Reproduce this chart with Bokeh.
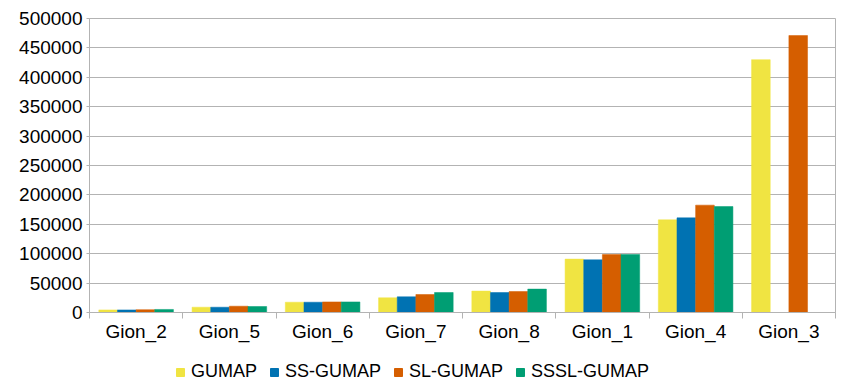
import numpy as np
from bokeh.plotting import figure
from bokeh.layouts import column
from bokeh.models import ColumnDataSource, FixedTicker, Range1d, Legend, LegendItem, BasicTickFormatter
from bokeh.embed import file_html
from bokeh.resources import INLINE

categories = ["Gion_2", "Gion_5", "Gion_6", "Gion_7", "Gion_8", "Gion_1", "Gion_4", "Gion_3"]
series_names = ["GUMAP", "SS-GUMAP", "SL-GUMAP", "SSSL-GUMAP"]
gumap = [4400, 9000, 17500, 25000, 36400, 90800, 157600, 430000]
ss_gumap = [4400, 9000, 17500, 26700, 34000, 89600, 161000, float("nan")]
sl_gumap = [4800, 10700, 18000, 30600, 35700, 98600, 182600, 471000]
sssl_gumap = [5200, 10200, 18000, 34000, 39800, 98600, 180200, float("nan")]
colors = ["#f0e442", "#0072b2", "#d55e00", "#009e73"]
y_ticks = list(range(0, 500001, 50000))

series = [gumap, ss_gumap, sl_gumap, sssl_gumap]
offsets = [-0.3, -0.1, 0.1, 0.3]
centers = np.arange(len(categories)) + 0.5

FONT = "Liberation Sans"
grid_col = "#b3b3b3"

p = figure(width=845, height=350, output_backend="svg", toolbar_location=None,
           x_range=Range1d(0, len(categories)), y_range=Range1d(0, 500000),
           min_border_left=89, min_border_right=10, min_border_top=18, min_border_bottom=38)

sources = []
for name, vals, off, col in zip(series_names, series, offsets, colors):
    src = ColumnDataSource(dict(x=centers + off, top=np.array(vals, dtype=float)))
    sources.append(src)
    p.vbar(x="x", top="top", bottom=0, width=0.2, source=src,
           fill_color=col, line_color=col, line_width=0.5)

# x axis: labels at centers, ticks at boundaries
p.xaxis.ticker = FixedTicker(ticks=list(centers), minor_ticks=list(range(len(categories) + 1)))
p.xaxis.major_label_overrides = {float(c): cat for c, cat in zip(centers, categories)}
p.xaxis.major_tick_line_color = None
p.xaxis.major_tick_out = 0
p.xaxis.major_tick_in = 0
p.xaxis.minor_tick_line_color = grid_col
p.xaxis.minor_tick_out = 6
p.xaxis.minor_tick_in = 0
p.xaxis.axis_line_color = grid_col
p.xaxis.major_label_text_font = FONT
p.xaxis.major_label_text_font_size = "19px"
p.xaxis.major_label_text_color = "#000000"
p.xaxis.major_label_standoff = 2
p.xgrid.grid_line_color = None

p.yaxis.ticker = FixedTicker(ticks=y_ticks)
p.yaxis.formatter = BasicTickFormatter(use_scientific=False)
p.yaxis.axis_line_color = grid_col
p.yaxis.major_tick_line_color = grid_col
p.yaxis.major_tick_out = 3
p.yaxis.major_tick_in = 0
p.yaxis.minor_tick_line_color = None
p.yaxis.major_label_text_font = FONT
p.yaxis.major_label_text_font_size = "19px"
p.yaxis.major_label_text_color = "#000000"
p.yaxis.major_label_standoff = 4
p.ygrid.grid_line_color = grid_col
p.ygrid.ticker = FixedTicker(ticks=y_ticks)

p.outline_line_color = grid_col
p.background_fill_color = "white"
p.border_fill_color = "white"

# legend strip below the chart (its bars lie far outside the visible range; only the legend shows)
lg = figure(width=845, height=37, output_backend="svg", toolbar_location=None,
            x_range=Range1d(1000, 1001), y_range=Range1d(1e8, 1e8 + 1),
            x_axis_location=None, y_axis_location=None,
            min_border_left=0, min_border_right=0, min_border_top=0, min_border_bottom=0)
lg.grid.visible = False
lg.outline_line_color = None
lg.background_fill_color = "white"
lg.border_fill_color = "white"
items = []
for name, col, src in zip(series_names, colors, sources):
    r = lg.vbar(x="x", top="top", bottom=0, width=0.2, source=src,
                fill_color=col, line_color=col)
    items.append(LegendItem(label=name, renderers=[r], index=0))
legend = Legend(items=items, orientation="horizontal", location=(86, 5),
                label_text_font=FONT, label_text_font_size="18px", label_text_color="#000000",
                glyph_width=10, glyph_height=10, label_standoff=6, spacing=12,
                border_line_color=None, background_fill_alpha=0,
                padding=0, margin=0, label_height=18)
lg.add_layout(legend, "center")

layout = column(p, lg, spacing=0)
open("out.html", "w").write(file_html(layout, INLINE))
